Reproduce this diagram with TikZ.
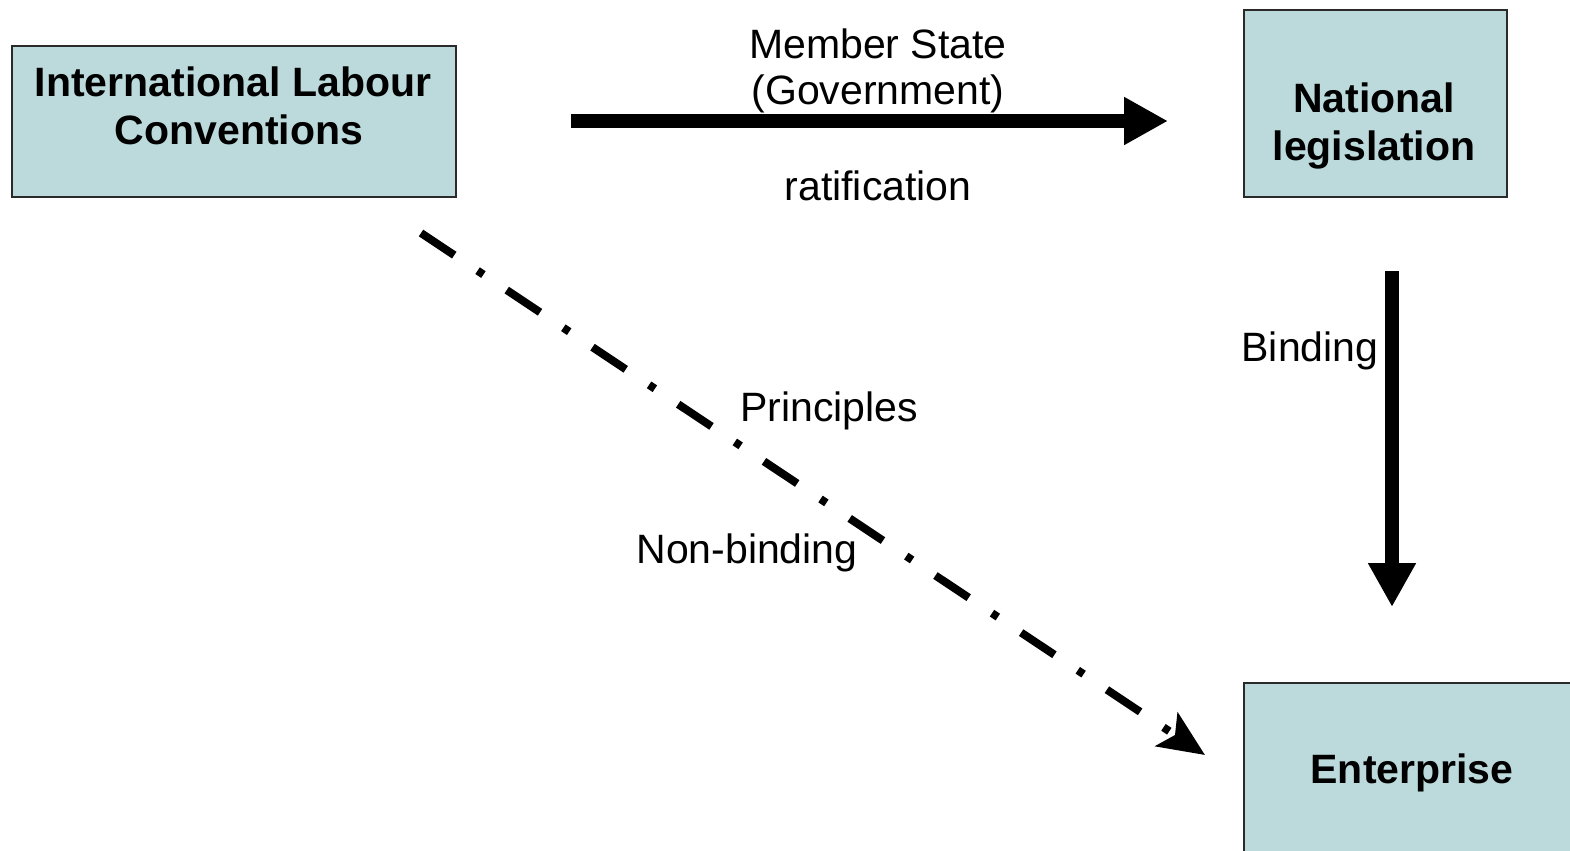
\documentclass[tikz,border=0pt]{standalone}
\usepackage{fontspec}
\setmainfont{Liberation Sans}
\usetikzlibrary{arrows.meta}
\definecolor{boxfill}{HTML}{BCDADC}
\definecolor{boxline}{HTML}{2A2A2A}
\begin{document}
\begin{tikzpicture}[x=0.5pt,y=-0.5pt,
  box/.style={draw=boxline, line width=1pt, fill=boxfill, inner sep=0pt, anchor=north west},
  lbl/.style={inner sep=0pt, anchor=base, font=\fontsize{20.5}{24}\selectfont},
  blbl/.style={lbl, font=\fontsize{20.5}{24}\selectfont\bfseries},
  bigarrow/.style={line width=7pt, -{Triangle[length=22pt,width=22.5pt]}},
  dasharrow/.style={line width=4pt, dash pattern=on 20pt off 14pt on 3.5pt off 14pt, -{Stealth[length=23pt,width=20pt,inset=5pt]}}
]
\useasboundingbox (0,0) rectangle (1570,851);
% boxes
\node[box, minimum width=222pt, minimum height=75.5pt] (ilc) at (11,45) {};
\node[box, minimum width=131.5pt, minimum height=93.5pt] (nat) at (1243,9) {};
\node[box, minimum width=230pt, minimum height=110pt] (ent) at (1243,682) {};
% box texts
\node[blbl] (ilc1) at (233,96) {International Labour};
\node[blbl] (ilc2) at (239,144) {Conventions};
\node[blbl] (nat1) at (1374,112) {National};
\node[blbl] (nat2) at (1374,160) {legislation};
\node[blbl] (ent1) at (1412,783) {Enterprise};
% connectors
\coordinate (h1) at (571,121);
\coordinate (h2) at (1168,121);
\coordinate (v1) at (1392,271);
\coordinate (v2) at (1392,607);
\coordinate (d1) at (421,233);
\coordinate (d2) at (1205,755);
\draw[bigarrow] (h1) -- (h2);
\draw[bigarrow] (v1) -- (v2);
\draw[dasharrow] (d1) -- (d2);
% labels
\node[lbl] (ms) at (878,58) {Member State};
\node[lbl] (gov) at (878,104) {(Government)};
\node[lbl] (rat) at (878,200) {ratification};
\node[lbl] (bind) at (1310,361) {Binding};
\node[lbl] (prin) at (829,421) {Principles};
\node[lbl] (nonb) at (747,563) {Non-binding};
\end{tikzpicture}
\end{document}
